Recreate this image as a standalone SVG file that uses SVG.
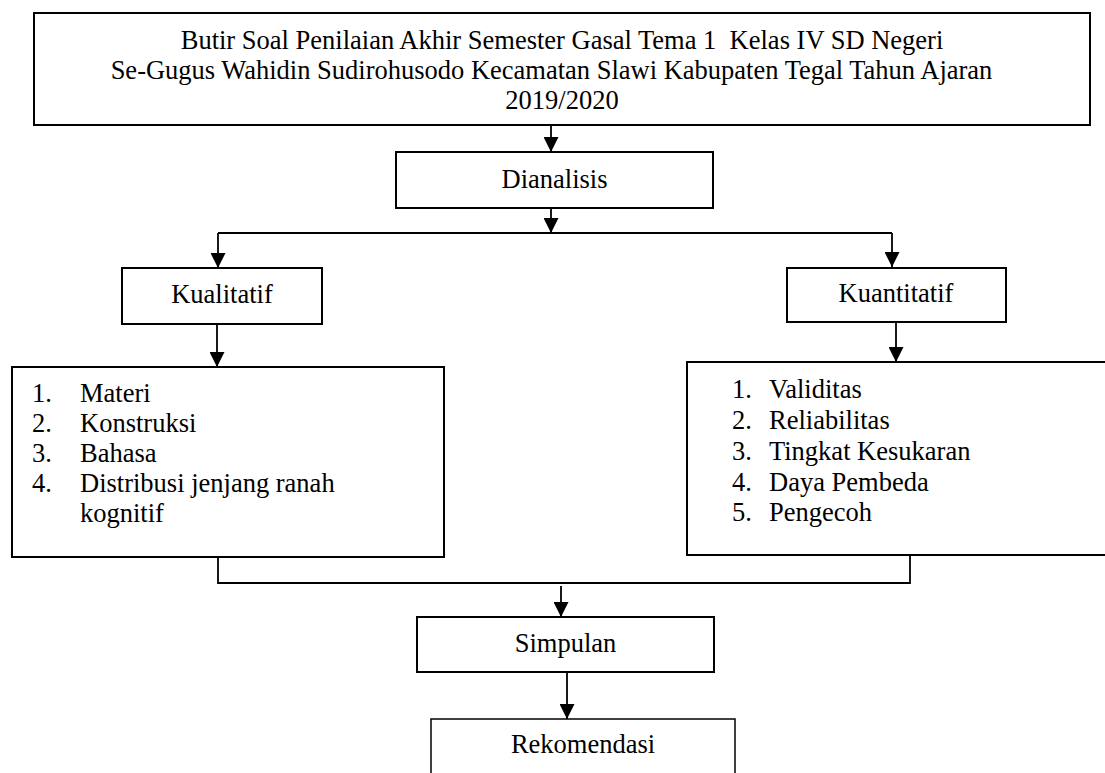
<svg xmlns="http://www.w3.org/2000/svg" width="1105" height="773" viewBox="0 0 1105 773">
<style>
.box{fill:#fff;stroke:#000;stroke-width:2}
.thin{fill:#fff;stroke:#000;stroke-width:1.5}
.t{font-family:"Liberation Serif","Times New Roman",serif;font-size:26.5px;fill:#000;white-space:pre}
.c{text-anchor:middle}
.ln{fill:none;stroke:#000;stroke-width:1.8}
</style>
<defs>
<marker id="ah" markerUnits="userSpaceOnUse" markerWidth="16" markerHeight="15" refX="15" refY="7.5" orient="auto" viewBox="0 0 16 15">
<path d="M0,0 L15,7.5 L0,15 z" fill="#000"/>
</marker>
</defs>
<rect width="1105" height="773" fill="#fff"/>
<g id="connectors">
<line class="ln" x1="551" y1="125" x2="551" y2="152" marker-end="url(#ah)"/>
<line class="ln" x1="551" y1="208" x2="551" y2="233" marker-end="url(#ah)"/>
<line class="ln" x1="218" y1="233" x2="892" y2="233"/>
<line class="ln" x1="218" y1="233" x2="218" y2="268" marker-end="url(#ah)"/>
<line class="ln" x1="892" y1="233" x2="892" y2="267" marker-end="url(#ah)"/>
<line class="ln" x1="217" y1="324" x2="217" y2="367" marker-end="url(#ah)"/>
<line class="ln" x1="896" y1="322" x2="896" y2="362" marker-end="url(#ah)"/>
<path class="ln" d="M218,557 V583 H910 V555"/>
<line class="ln" x1="561" y1="586" x2="561" y2="617" marker-end="url(#ah)"/>
<line class="ln" x1="567" y1="672" x2="567" y2="719" marker-end="url(#ah)"/>
</g>
<g id="title">
<rect class="box" x="34" y="13" width="1056" height="112"/>
<text class="t c" x="562" y="49" xml:space="preserve">Butir Soal Penilaian Akhir Semester Gasal Tema 1  Kelas IV SD Negeri</text>
<text class="t c" x="551.5" y="79">Se-Gugus Wahidin Sudirohusodo Kecamatan Slawi Kabupaten Tegal Tahun Ajaran</text>
<text class="t c" x="562" y="109">2019/2020</text>
</g>
<g id="dianalisis">
<rect class="box" x="396" y="152" width="317" height="56"/>
<text class="t c" x="554.5" y="188">Dianalisis</text>
</g>
<g id="kualitatif">
<rect class="box" x="122" y="268" width="200" height="56"/>
<text class="t c" x="222" y="303">Kualitatif</text>
</g>
<g id="kuantitatif">
<rect class="box" x="787" y="268" width="219" height="54"/>
<text class="t c" x="896" y="302">Kuantitatif</text>
</g>
<g id="kualitatif-list">
<rect class="box" x="12" y="367" width="432" height="190"/>
<text class="t" x="32" y="402">1.</text><text class="t" x="80" y="402">Materi</text>
<text class="t" x="32" y="432">2.</text><text class="t" x="80" y="432">Konstruksi</text>
<text class="t" x="32" y="462">3.</text><text class="t" x="80" y="462">Bahasa</text>
<text class="t" x="32" y="492">4.</text><text class="t" x="80" y="492">Distribusi jenjang ranah</text>
<text class="t" x="80" y="522">kognitif</text>
</g>
<g id="kuantitatif-list">
<rect class="box" x="687" y="362" width="440" height="193"/>
<text class="t" x="732" y="398">1.</text><text class="t" x="769" y="398">Validitas</text>
<text class="t" x="732" y="429">2.</text><text class="t" x="769" y="429">Reliabilitas</text>
<text class="t" x="732" y="460">3.</text><text class="t" x="769" y="460">Tingkat Kesukaran</text>
<text class="t" x="732" y="491">4.</text><text class="t" x="769" y="491">Daya Pembeda</text>
<text class="t" x="732" y="521">5.</text><text class="t" x="769" y="521">Pengecoh</text>
</g>
<g id="simpulan">
<rect class="box" x="417" y="617" width="297" height="55"/>
<text class="t c" x="565.5" y="652">Simpulan</text>
</g>
<g id="rekomendasi">
<rect class="thin" x="431" y="719" width="304" height="80"/>
<text class="t c" x="583" y="753">Rekomendasi</text>
</g>
</svg>
